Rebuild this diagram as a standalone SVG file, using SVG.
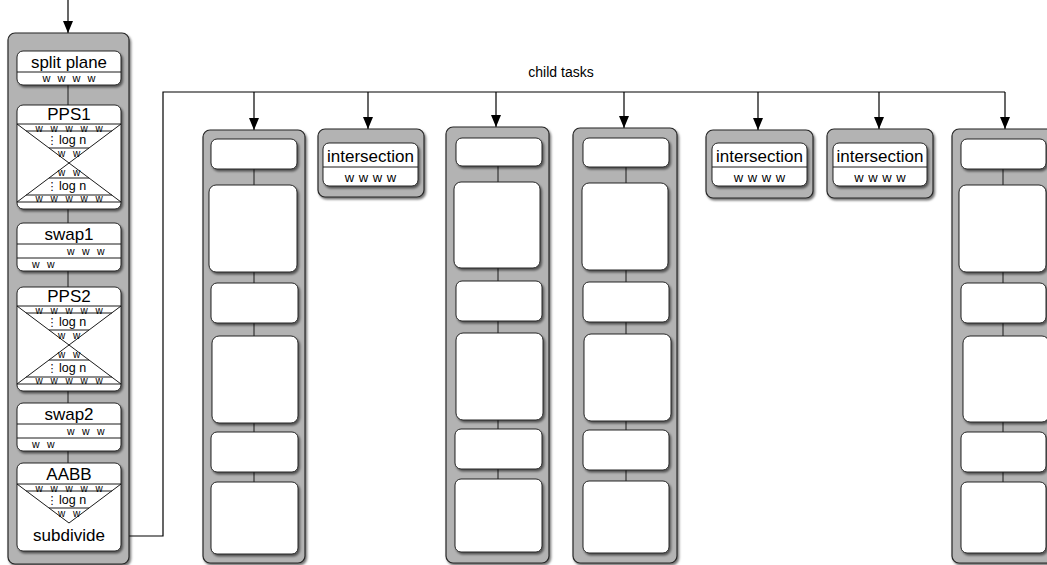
<svg xmlns="http://www.w3.org/2000/svg" width="1047" height="565" viewBox="0 0 1047 565">
<defs>
<filter id="sh" x="-20%" y="-20%" width="140%" height="140%">
<feDropShadow dx="1.5" dy="2" stdDeviation="1.3" flood-color="#000" flood-opacity="0.55"/>
</filter>
<marker id="arr" markerUnits="userSpaceOnUse" markerWidth="10" markerHeight="12" refX="5" refY="12" orient="0" viewBox="0 0 10 12">
<path d="M0,0 L10,0 L5,12 z" fill="#000"/>
</marker>
</defs>
<style>
.cont{fill:#b3b3b3;stroke:#262626;stroke-width:1.2;filter:url(#sh)}
.box{fill:#fff;stroke:#262626;stroke-width:1;filter:url(#sh)}
.ln{stroke:#1a1a1a;stroke-width:1;fill:none}
.con{stroke:#000;stroke-width:1.2;fill:none}
text{font-family:"Liberation Sans",Arial,sans-serif;fill:#000}
.big{font-size:17px;text-anchor:middle}
.w{font-size:10.5px;word-spacing:4.5px}
.wm{font-size:10px;word-spacing:5px;text-anchor:middle}
.ws{font-size:11px;word-spacing:4px;text-anchor:middle}
.lg{font-size:12.5px}
.dots{font-family:"DejaVu Sans",sans-serif;font-size:11px;text-anchor:middle}
.lab{font-size:14px;text-anchor:middle}
.wi{font-size:13px;word-spacing:1px;text-anchor:middle}
</style>
<rect width="1047" height="565" fill="#fff"/>

<!-- connectors -->
<g id="connectors">
<line class="con" x1="68" y1="0" x2="68" y2="33" marker-end="url(#arr)"/>
<polyline class="con" points="121,536 163,536 163,92 1005,92"/>
<line class="con" x1="254" y1="92" x2="254" y2="130" marker-end="url(#arr)"/>
<line class="con" x1="368" y1="92" x2="368" y2="129" marker-end="url(#arr)"/>
<line class="con" x1="496" y1="92" x2="496" y2="127" marker-end="url(#arr)"/>
<line class="con" x1="624" y1="92" x2="624" y2="128" marker-end="url(#arr)"/>
<line class="con" x1="758" y1="92" x2="758" y2="130" marker-end="url(#arr)"/>
<line class="con" x1="879" y1="92" x2="879" y2="129" marker-end="url(#arr)"/>
<line class="con" x1="1005" y1="92" x2="1005" y2="129" marker-end="url(#arr)"/>
<text class="lab" x="561" y="77">child tasks</text>
</g>

<!-- parent task column -->
<g id="parent-task">
<rect class="cont" x="8" y="33" width="121" height="531" rx="7"/>
<g class="ln">
<line x1="68" y1="85" x2="68" y2="105"/>
<line x1="68" y1="209" x2="68" y2="223"/>
<line x1="68" y1="271" x2="68" y2="287"/>
<line x1="68" y1="391" x2="68" y2="403"/>
<line x1="68" y1="451" x2="68" y2="463"/>
</g>

<g id="split-plane">
<rect class="box" x="17" y="51" width="104" height="34" rx="6"/>
<line class="ln" x1="17" y1="72" x2="121" y2="72"/>
<text class="big" x="69" y="68" textLength="76" lengthAdjust="spacingAndGlyphs">split plane</text>
<text class="ws" x="69" y="81.5">w w w w</text>
</g>

<g id="pps1">
<rect class="box" x="17" y="105" width="104" height="104" rx="6"/>
<text class="big" x="69" y="120">PPS1</text>
<g class="ln">
<line x1="17" y1="124" x2="121" y2="124"/>
<line x1="17" y1="124" x2="121" y2="202"/>
<line x1="121" y1="124" x2="17" y2="202"/>
<line x1="17" y1="202" x2="121" y2="202"/>
<line x1="26" y1="131" x2="112" y2="131"/>
<line x1="49" y1="148" x2="89" y2="148"/>
<line x1="49" y1="178" x2="89" y2="178"/>
<line x1="26" y1="195" x2="112" y2="195"/>
</g>
<text class="wm" x="69" y="131.5">w w w w w</text>
<text class="dots" x="52" y="144">⋮</text>
<text class="lg" x="59" y="144">log n</text>
<text class="wm" x="69" y="157">w w</text>
<text class="wm" x="69" y="176">w w</text>
<text class="dots" x="52" y="189.5">⋮</text>
<text class="lg" x="59" y="189.5">log n</text>
<text class="wm" x="69" y="201.5">w w w w w</text>
</g>

<g id="swap1">
<rect class="box" x="17" y="223" width="104" height="48" rx="6"/>
<text class="big" x="69" y="240">swap1</text>
<g class="ln">
<line x1="17" y1="244" x2="121" y2="244"/>
<line x1="17" y1="258" x2="121" y2="258"/>
</g>
<text class="w" x="67" y="255">w w w</text>
<text class="w" x="32" y="268">w w</text>
</g>

<g id="pps2">
<rect class="box" x="17" y="287" width="104" height="104" rx="6"/>
<text class="big" x="69" y="302">PPS2</text>
<g class="ln">
<line x1="17" y1="306" x2="121" y2="306"/>
<line x1="17" y1="306" x2="121" y2="384"/>
<line x1="121" y1="306" x2="17" y2="384"/>
<line x1="17" y1="384" x2="121" y2="384"/>
<line x1="26" y1="313" x2="112" y2="313"/>
<line x1="49" y1="330" x2="89" y2="330"/>
<line x1="49" y1="360" x2="89" y2="360"/>
<line x1="26" y1="377" x2="112" y2="377"/>
</g>
<text class="wm" x="69" y="313.5">w w w w w</text>
<text class="dots" x="52" y="326">⋮</text>
<text class="lg" x="59" y="326">log n</text>
<text class="wm" x="69" y="339">w w</text>
<text class="wm" x="69" y="358">w w</text>
<text class="dots" x="52" y="371.5">⋮</text>
<text class="lg" x="59" y="371.5">log n</text>
<text class="wm" x="69" y="383.5">w w w w w</text>
</g>

<g id="swap2">
<rect class="box" x="17" y="403" width="104" height="48" rx="6"/>
<text class="big" x="69" y="420">swap2</text>
<g class="ln">
<line x1="17" y1="424" x2="121" y2="424"/>
<line x1="17" y1="438" x2="121" y2="438"/>
</g>
<text class="w" x="67" y="435">w w w</text>
<text class="w" x="32" y="448">w w</text>
</g>

<g id="aabb">
<rect class="box" x="17" y="463" width="104" height="88" rx="6"/>
<text class="big" x="69" y="480">AABB</text>
<g class="ln">
<line x1="17" y1="484" x2="121" y2="484"/>
<line x1="17" y1="484" x2="69" y2="523"/>
<line x1="121" y1="484" x2="69" y2="523"/>
<line x1="26" y1="491" x2="112" y2="491"/>
<line x1="49" y1="508" x2="89" y2="508"/>
</g>
<text class="wm" x="69" y="491.5">w w w w w</text>
<text class="dots" x="52" y="504">⋮</text>
<text class="lg" x="59" y="504">log n</text>
<text class="wm" x="69" y="517">w w</text>
<text class="big" x="69" y="541">subdivide</text>
</g>
</g>

<!-- child task column 1 -->
<g id="child1">
<rect class="cont" x="203" y="130" width="102" height="433" rx="7"/>
<line class="ln" x1="254" y1="169" x2="254" y2="482"/>
<rect class="box" x="211" y="139" width="86" height="30" rx="6"/>
<rect class="box" x="209" y="185" width="88" height="87" rx="7"/>
<rect class="box" x="211" y="283" width="87" height="40" rx="6"/>
<rect class="box" x="212" y="336" width="86" height="87" rx="7"/>
<rect class="box" x="211" y="432" width="87" height="40" rx="6"/>
<rect class="box" x="211" y="482" width="87" height="72" rx="6"/>
</g>

<g id="intersection1">
<rect class="cont" x="318" y="129" width="106" height="68" rx="7"/>
<rect class="box" x="323" y="143" width="95" height="43" rx="6"/>
<line class="ln" x1="323" y1="167" x2="418" y2="167"/>
<text class="big" x="370.5" y="162">intersection</text>
<text class="wi" x="370.5" y="182">w w w w</text>
</g>

<g id="child3">
<rect class="cont" x="446" y="127" width="103" height="436" rx="7"/>
<line class="ln" x1="498" y1="166" x2="498" y2="479"/>
<rect class="box" x="456" y="138" width="86" height="28" rx="6"/>
<rect class="box" x="454" y="182" width="86" height="86" rx="7"/>
<rect class="box" x="456" y="281" width="86" height="40" rx="6"/>
<rect class="box" x="456" y="333" width="87" height="87" rx="7"/>
<rect class="box" x="455" y="429" width="87" height="40" rx="6"/>
<rect class="box" x="455" y="479" width="87" height="73" rx="6"/>
</g>

<g id="child4">
<rect class="cont" x="573" y="128" width="104" height="435" rx="7"/>
<line class="ln" x1="626" y1="167" x2="626" y2="481"/>
<rect class="box" x="583" y="138" width="86" height="29" rx="6"/>
<rect class="box" x="582" y="183" width="86" height="87" rx="7"/>
<rect class="box" x="583" y="282" width="86" height="40" rx="6"/>
<rect class="box" x="584" y="334" width="87" height="87" rx="7"/>
<rect class="box" x="583" y="430" width="86" height="40" rx="6"/>
<rect class="box" x="583" y="481" width="86" height="72" rx="6"/>
</g>

<g id="intersection2">
<rect class="cont" x="706" y="130" width="107" height="68" rx="7"/>
<rect class="box" x="712" y="143" width="95" height="43" rx="6"/>
<line class="ln" x1="712" y1="167" x2="807" y2="167"/>
<text class="big" x="759.5" y="162">intersection</text>
<text class="wi" x="759.5" y="182">w w w w</text>
</g>

<g id="intersection3">
<rect class="cont" x="827" y="129" width="106" height="69" rx="7"/>
<rect class="box" x="833" y="143" width="94" height="43" rx="6"/>
<line class="ln" x1="833" y1="167" x2="927" y2="167"/>
<text class="big" x="880" y="162">intersection</text>
<text class="wi" x="880" y="182">w w w w</text>
</g>

<g id="child7">
<rect class="cont" x="952" y="129" width="110" height="434" rx="7"/>
<line class="ln" x1="1003" y1="169" x2="1003" y2="482"/>
<rect class="box" x="961" y="139" width="85" height="30" rx="6"/>
<rect class="box" x="959" y="185" width="87" height="87" rx="7"/>
<rect class="box" x="961" y="283" width="85" height="40" rx="6"/>
<rect class="box" x="963" y="336" width="86" height="86" rx="7"/>
<rect class="box" x="961" y="432" width="85" height="40" rx="6"/>
<rect class="box" x="961" y="482" width="85" height="71" rx="6"/>
</g>
</svg>
